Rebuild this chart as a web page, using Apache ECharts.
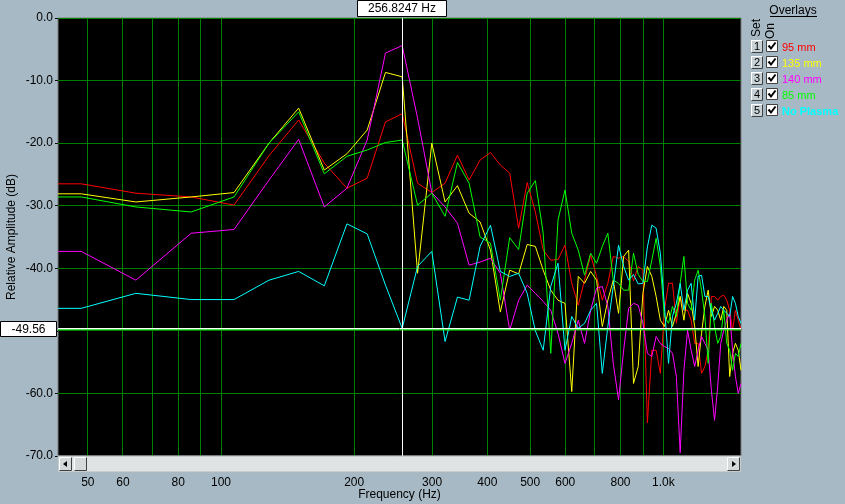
<!DOCTYPE html>
<html><head><meta charset="utf-8">
<script src="https://cdn.jsdelivr.net/npm/echarts@6/dist/echarts.min.js"></script>
<style>html,body{margin:0;padding:0;background:#a7b9c4;}#c{width:845px;height:504px;}</style>
</head><body><div id="c"></div>
<script>
// Frequency bins (Hz) of the displayed spectrum
const freqHz = [42.8, 48.3, 64.2, 85.6, 107.0, 128.4, 149.8, 171.2, 192.6, 214.0,
  235.4, 256.8, 278.2, 299.6, 321.0, 342.4, 363.8, 385.2, 406.6, 428.0,
  449.4, 470.8, 492.2, 513.6, 535.0, 556.5, 577.9, 599.3, 620.7, 642.1,
  663.5, 684.9, 706.3, 727.7, 749.1, 770.5, 791.9, 813.3, 834.7, 856.1,
  877.5, 898.9, 920.3, 941.7, 963.1, 984.5, 1005.9, 1027.3, 1048.7, 1070.1,
  1091.5, 1112.9, 1134.3, 1155.7, 1177.1, 1198.5, 1219.9, 1241.3, 1262.7, 1284.1,
  1305.5, 1326.9, 1348.3, 1369.7, 1391.1, 1412.5, 1433.9, 1455.3, 1476.7, 1498.1];

const mm95 = [-26.5, -26.5, -28.0, -28.6, -29.9, -22.0, -16.3, -23.2, -27.2, -25.6,
  -16.6, -15.3, -26.4, -27.9, -26.4, -21.9, -25.9, -22.7, -21.5, -23.5,
  -24.8, -33.6, -26.3, -31.0, -37.1, -38.7, -38.6, -36.3, -42.4, -45.9,
  -41.9, -37.9, -41.3, -45.1, -42.4, -38.1, -38.4, -38.1, -38.9, -42.0,
  -39.7, -40.3, -64.7, -53.1, -53.1, -56.8, -46.7, -42.4, -42.4, -48.8,
  -44.5, -46.7, -46.7, -48.3, -52.0, -52.0, -56.8, -55.7, -53.1, -44.5,
  -44.5, -45.1, -44.5, -44.3, -45.1, -46.7, -49.9, -46.7, -48.3, -49.9];

const mm135 = [-28.1, -28.1, -29.4, -28.6, -27.9, -20.0, -14.4, -24.3, -21.7, -17.9,
  -8.7, -9.4, -40.8, -20.0, -29.4, -26.8, -31.2, -32.6, -37.1, -47.0,
  -40.3, -40.9, -36.2, -36.5, -40.3, -43.5, -45.1, -45.6, -59.7, -41.3,
  -42.4, -40.5, -41.9, -49.3, -45.1, -41.9, -47.2, -38.1, -37.1, -58.4,
  -55.7, -44.0, -39.7, -41.3, -44.5, -48.3, -49.3, -46.7, -49.3, -47.2,
  -44.5, -48.3, -44.0, -45.6, -49.3, -55.7, -50.4, -46.1, -43.5, -47.7,
  -46.1, -46.7, -48.3, -46.1, -46.7, -57.3, -53.6, -52.0, -53.1, -56.3];

const mm140 = [-37.3, -37.3, -41.9, -34.4, -33.8, -25.9, -19.4, -30.2, -27.2, -19.5,
  -5.6, -4.4, -16.0, -27.9, -30.2, -32.8, -39.5, -39.0, -38.4, -40.8,
  -49.9, -45.1, -42.7, -44.0, -45.3, -46.7, -50.4, -55.2, -52.0, -48.3,
  -52.0, -46.7, -43.2, -42.9, -46.1, -55.2, -61.0, -53.1, -46.4, -45.6,
  -45.9, -48.8, -53.6, -54.1, -50.9, -52.0, -52.5, -52.8, -53.6, -57.3,
  -69.5, -56.3, -49.9, -53.1, -55.7, -53.1, -50.9, -52.0, -53.1, -59.5,
  -64.3, -58.9, -52.0, -49.9, -48.3, -47.2, -53.1, -57.3, -60.0, -58.4];

const mm85 = [-28.6, -28.6, -30.2, -31.0, -28.6, -20.0, -15.0, -24.9, -22.1, -21.1,
  -19.9, -19.5, -29.9, -28.0, -31.7, -23.1, -26.4, -35.0, -36.0, -45.1,
  -35.1, -37.0, -28.0, -26.0, -34.4, -53.6, -32.3, -27.5, -34.4, -37.1,
  -41.1, -37.6, -39.2, -36.5, -34.4, -41.9, -42.4, -43.5, -43.5, -37.6,
  -41.0, -42.1, -42.1, -38.7, -35.2, -39.7, -47.7, -48.8, -46.1, -47.7,
  -42.4, -38.1, -45.6, -46.7, -41.9, -40.3, -43.5, -47.7, -55.2, -45.6,
  -49.3, -52.0, -50.9, -46.7, -52.0, -53.1, -56.3, -53.6, -54.1, -52.0];

const noPlasma = [-46.4, -46.4, -44.0, -45.0, -45.0, -41.9, -40.5, -42.8, -32.9, -34.5,
  -42.7, -49.6, -39.7, -37.3, -51.7, -44.6, -45.1, -36.5, -33.1, -40.5,
  -41.3, -40.8, -44.0, -50.0, -53.1, -42.9, -39.2, -53.1, -47.7, -49.6,
  -48.8, -46.7, -45.6, -56.8, -49.3, -42.9, -36.3, -39.7, -41.9, -41.0,
  -42.5, -42.4, -36.6, -33.1, -33.6, -37.6, -46.1, -55.2, -47.7, -45.6,
  -42.4, -46.7, -43.5, -42.4, -48.3, -41.3, -41.1, -44.5, -44.5, -46.7,
  -48.3, -47.2, -46.1, -46.7, -47.2, -47.7, -44.5, -45.6, -47.7, -48.8];

const seriesNames = ['95 mm', '135 mm', '140 mm', '85 mm', 'No Plasma'];
const seriesValues = [mm95, mm135, mm140, mm85, noPlasma];
const seriesColors = ['#ff0000', '#ffff00', '#ff00ff', '#00ff00', '#00ffff'];
const tickHz = [50, 60, 70, 80, 90, 100, 200, 300, 400, 500, 600, 700, 800, 900, 1000];
const labelHz = [50, 60, 80, 100, 200, 300, 400, 500, 600, 800, 1000];
const gridDb = [0, -10, -20, -30, -40, -50, -60, -70];
const cursorHz = 256.8247;
const cursorDb = -49.56;

(function () {
const FONT = 'Liberation Sans, Arial, sans-serif';
const chart = echarts.init(document.getElementById('c'));

const series = seriesValues.map((vals, i) => ({
  name: seriesNames[i],
  type: 'line',
  data: freqHz.map((f, j) => [Math.log10(f), vals[j]]),
  showSymbol: false,
  symbol: 'none',
  lineStyle: { color: seriesColors[i], width: 1 },
  itemStyle: { color: seriesColors[i] },
  z: 2 + i
}));

function bevel(x, y, w, h, fill) {
  return [
    { type: 'rect', shape: { x: x, y: y, width: w, height: h }, style: { fill: fill, stroke: null }, z: 100 },
    { type: 'polyline', shape: { points: [[x + 0.5, y + h - 0.5], [x + 0.5, y + 0.5], [x + w - 0.5, y + 0.5]] }, style: { stroke: '#ffffff', lineWidth: 1, fill: null }, z: 101 },
    { type: 'polyline', shape: { points: [[x + 0.5, y + h - 0.5], [x + w - 0.5, y + h - 0.5], [x + w - 0.5, y + 0.5]] }, style: { stroke: '#404040', lineWidth: 1, fill: null }, z: 101 }
  ];
}

const graphics = [];
// scrollbar under plot
graphics.push({ type: 'rect', shape: { x: 58, y: 456, width: 683, height: 16 }, style: { fill: '#dfe3e3', stroke: '#b0b8bc' }, z: 100 });
graphics.push(...bevel(59, 457, 13, 14, '#d4dada'));
graphics.push({ type: 'polygon', shape: { points: [[63, 464], [67, 461], [67, 467]] }, style: { fill: '#000' }, z: 102 });
graphics.push(...bevel(74, 457, 13, 14, '#d4dada'));
graphics.push(...bevel(727, 457, 13, 14, '#d4dada'));
graphics.push({ type: 'polygon', shape: { points: [[736, 464], [732, 461], [732, 467]] }, style: { fill: '#000' }, z: 102 });
// cursor readouts
graphics.push({ type: 'rect', shape: { x: 357.5, y: 0.5, width: 89, height: 16 }, style: { fill: '#ffffff', stroke: '#000', lineWidth: 1 }, z: 100 });
graphics.push({ type: 'text', x: 402, y: 9, style: { text: cursorHz.toFixed(4) + ' Hz', font: '12px ' + FONT, fill: '#000', align: 'center', verticalAlign: 'middle' }, z: 101 });
graphics.push({ type: 'rect', shape: { x: 0.5, y: 321.5, width: 56, height: 15 }, style: { fill: '#ffffff', stroke: '#000', lineWidth: 1 }, z: 100 });
graphics.push({ type: 'text', x: 28.5, y: 329.5, style: { text: cursorDb.toFixed(2), font: '12px ' + FONT, fill: '#000', align: 'center', verticalAlign: 'middle' }, z: 101 });
// overlay panel
graphics.push({ type: 'text', x: 793, y: 11, style: { text: 'Overlays', font: '12px ' + FONT, fill: '#000', align: 'center', verticalAlign: 'middle' }, z: 100 });
graphics.push({ type: 'line', shape: { x1: 770, y1: 16.5, x2: 817, y2: 16.5 }, style: { stroke: '#000', lineWidth: 1 }, z: 100 });
graphics.push({ type: 'text', x: 757, y: 28, rotation: Math.PI / 2, style: { text: 'Set', font: '12px ' + FONT, fill: '#000', align: 'center', verticalAlign: 'middle' }, z: 100 });
graphics.push({ type: 'text', x: 771, y: 31, rotation: Math.PI / 2, style: { text: 'On', font: '12px ' + FONT, fill: '#000', align: 'center', verticalAlign: 'middle' }, z: 100 });
seriesNames.forEach((n, i) => {
  const cy = 46 + i * 16;
  graphics.push(...bevel(751, cy - 6, 12, 13, '#c8d2d6'));
  graphics.push({ type: 'text', x: 757, y: cy + 0.5, style: { text: String(i + 1), font: '11px ' + FONT, fill: '#000', align: 'center', verticalAlign: 'middle' }, z: 102 });
  graphics.push({ type: 'rect', shape: { x: 766.5, y: cy - 5.5, width: 11, height: 11 }, style: { fill: '#ffffff', stroke: '#404040', lineWidth: 1 }, z: 100 });
  graphics.push({ type: 'polyline', shape: { points: [[768.5, cy - 0.5], [771, cy + 2.5], [775.5, cy - 3.5]] }, style: { stroke: '#000', lineWidth: 2, fill: null }, z: 101 });
});

function fmtHz(v) {
  const f = Math.round(Math.pow(10, v));
  return f >= 1000 ? (f / 1000).toFixed(1) + 'k' : String(f);
}

const xMin = Math.log10(freqHz[0]);
const xMax = Math.log10(freqHz[freqHz.length - 1]);

chart.setOption({
  animation: false,
  backgroundColor: '#a7b9c4',
  textStyle: { fontFamily: FONT },
  grid: { left: 58, right: 104, top: 18, bottom: 48, show: true, containLabel: false, outerBoundsMode: 'none',
    backgroundColor: '#000000', borderColor: '#7a7a7a', borderWidth: 1 },
  legend: {
    orient: 'vertical', left: 772, top: 36, itemWidth: 0, itemHeight: 14, itemGap: 2,
    selectedMode: false, icon: 'rect',
    textStyle: { fontSize: 11, fontFamily: FONT },
    data: seriesNames.map((n, i) => ({ name: n, itemStyle: { opacity: 0 }, textStyle: { color: seriesColors[i], fontWeight: i === 4 ? 'bold' : 'normal' } }))
  },
  xAxis: {
    type: 'value', min: xMin, max: xMax,
    name: 'Frequency (Hz)', nameLocation: 'middle', nameGap: 33, nameMoveOverlap: false,
    nameTextStyle: { color: '#000', fontSize: 12, fontFamily: FONT },
    axisLine: { show: false },
    axisTick: { show: true, customValues: tickHz.map(Math.log10), length: 20, lineStyle: { color: '#000' } },
    axisLabel: { customValues: labelHz.map(Math.log10), formatter: fmtHz, color: '#000', fontSize: 12, margin: 21, fontFamily: FONT },
    splitLine: { show: false }
  },
  yAxis: {
    type: 'value', min: -70, max: 0, interval: 10,
    name: 'Relative Amplitude (dB)', nameLocation: 'middle', nameGap: 40, nameMoveOverlap: false,
    nameTextStyle: { color: '#000', fontSize: 12, fontFamily: FONT },
    axisLine: { show: false },
    axisTick: { show: true, length: 3, lineStyle: { color: '#000' } },
    axisLabel: { formatter: v => v.toFixed(1), color: '#000', fontSize: 12, margin: 5, fontFamily: FONT },
    splitLine: { show: false }
  },
  series: series
});

// Grid and cursor lines: positions come from the chart's own axes, snapped to whole pixels
const px = v => Math.floor(chart.convertToPixel({ xAxisIndex: 0 }, v)) + 0.5;
const py = v => Math.floor(chart.convertToPixel({ yAxisIndex: 0 }, v)) + 0.5;
const pLeft = chart.convertToPixel({ xAxisIndex: 0 }, xMin);
const pRight = chart.convertToPixel({ xAxisIndex: 0 }, xMax);
const pTop = chart.convertToPixel({ yAxisIndex: 0 }, 0);
const pBottom = chart.convertToPixel({ yAxisIndex: 0 }, -70);
const lines = [];
tickHz.forEach(f => {
  const x = px(Math.log10(f));
  lines.push({ type: 'line', shape: { x1: x, y1: pTop, x2: x, y2: pBottom }, style: { stroke: '#008000', lineWidth: 1 }, z: 1, silent: true });
});
gridDb.forEach(d => {
  const y = py(d);
  lines.push({ type: 'line', shape: { x1: pLeft, y1: y, x2: pRight, y2: y }, style: { stroke: '#008000', lineWidth: 1 }, z: 1, silent: true });
});
const cx = px(Math.log10(cursorHz));
lines.push({ type: 'line', shape: { x1: cx, y1: pTop, x2: cx, y2: pBottom }, style: { stroke: '#ffffff', lineWidth: 1 }, z: 20, silent: true });
const cyl = py(cursorDb);
lines.push({ type: 'line', shape: { x1: pLeft, y1: cyl, x2: pRight, y2: cyl }, style: { stroke: '#ffffff', lineWidth: 1 }, z: 20, silent: true });
lines.push({ type: 'line', shape: { x1: pLeft, y1: cyl + 1, x2: pRight, y2: cyl + 1 }, style: { stroke: '#40e040', lineWidth: 1 }, z: 20, silent: true });

chart.setOption({ graphic: { elements: lines.concat(graphics) } });
})();
</script></body></html>
